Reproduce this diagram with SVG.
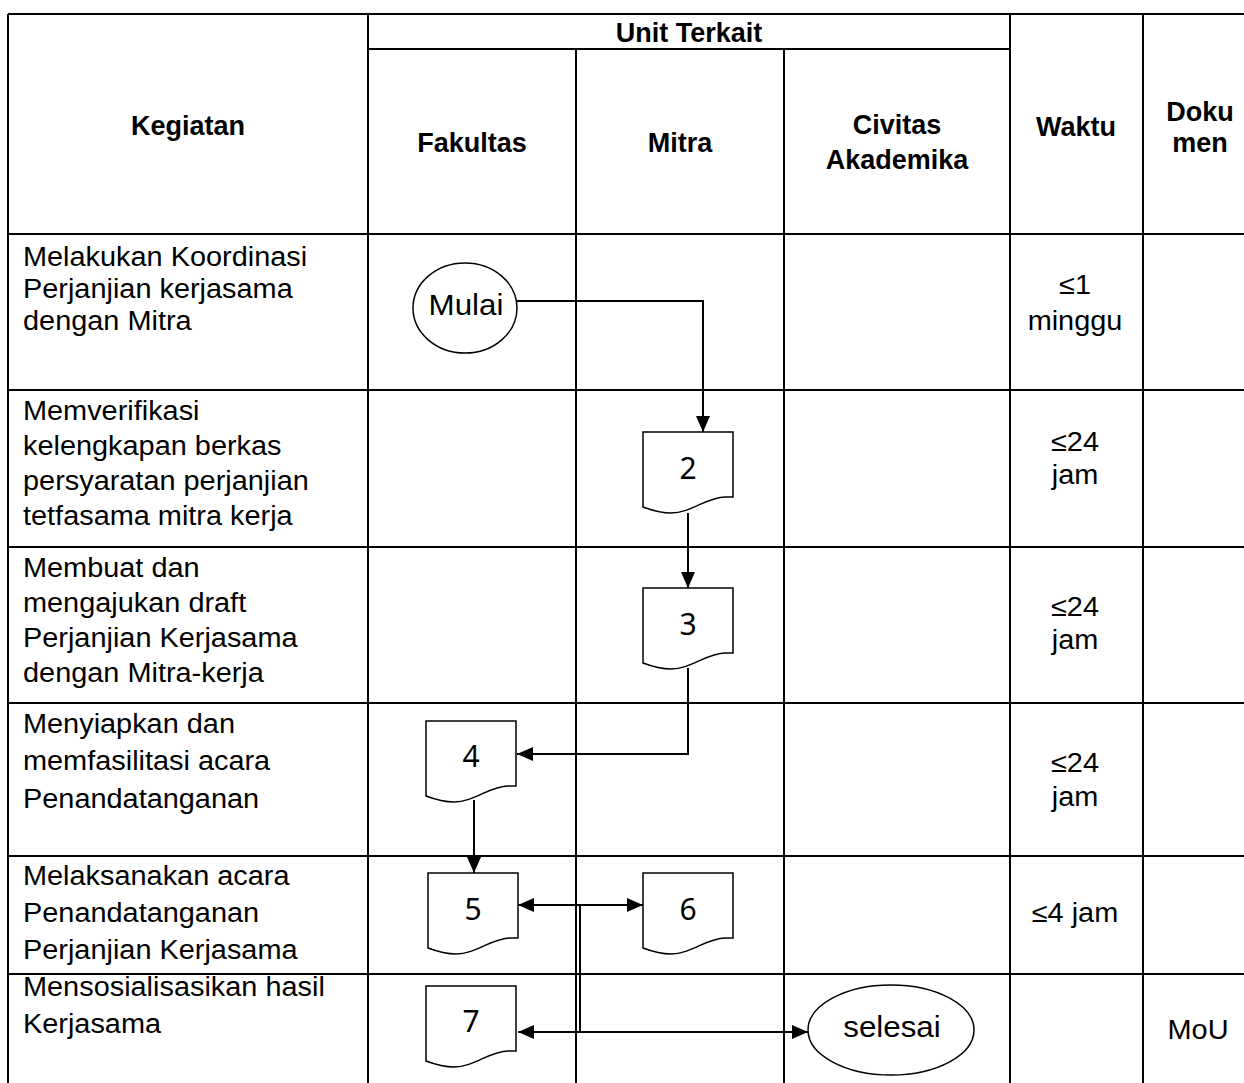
<svg xmlns="http://www.w3.org/2000/svg" width="1244" height="1083" viewBox="0 0 1244 1083">
<style>
.grid{stroke:#000;stroke-width:2;fill:none}
.h{font-family:"Liberation Sans",Arial,sans-serif;font-weight:bold;font-size:27px;fill:#000;text-anchor:middle}
.b{font-family:"Liberation Sans",Arial,sans-serif;font-size:27px;fill:#000}
.c{text-anchor:middle}
.shape{fill:#fff;stroke:#000;stroke-width:1.5}
.num{font-family:"Noto Sans","Open Sans",sans-serif;font-size:30px;fill:#000;text-anchor:middle}
.conn{stroke:#000;stroke-width:2;fill:none}
</style>
<defs>
<marker id="ah" viewBox="0 0 16 14" refX="16" refY="7" markerWidth="16" markerHeight="14" markerUnits="userSpaceOnUse" orient="auto-start-reverse">
<path d="M0,0 L16,7 L0,14 Z" fill="#000"/>
</marker>
<path id="doc" d="M0,0 H90 V65 H82 C64,65 48,81 28,81 C16,81 8,78 0,75 Z"/>
</defs>
<rect width="1244" height="1083" fill="#fff"/>
<g id="table" class="grid">
<path d="M8,14 H1244 M368,49 H1010 M8,234 H1244 M8,390 H1244 M8,547 H1244 M8,703 H1244 M8,856 H1244 M8,974 H1244"/>
<path d="M8,14 V1083 M368,14 V1083 M1010,14 V1083 M1143,14 V1083 M576,49 V1083 M784,49 V1083"/>
</g>
<g id="header">
<text class="h" x="689" y="42">Unit Terkait</text>
<text class="h" x="188" y="135">Kegiatan</text>
<text class="h" x="472" y="152">Fakultas</text>
<text class="h" x="680" y="152">Mitra</text>
<text class="h" x="897" y="134">Civitas</text>
<text class="h" x="897" y="169">Akademika</text>
<text class="h" x="1076" y="136">Waktu</text>
<text class="h" x="1200" y="121">Doku</text>
<text class="h" x="1200" y="152">men</text>
</g>
<g id="kegiatan" class="b" transform="translate(23,0) scale(1.07,1)">
<text x="0" y="266">Melakukan Koordinasi</text>
<text x="0" y="298">Perjanjian kerjasama</text>
<text x="0" y="330">dengan Mitra</text>
<text x="0" y="420">Memverifikasi</text>
<text x="0" y="455">kelengkapan berkas</text>
<text x="0" y="490">persyaratan perjanjian</text>
<text x="0" y="525">tetfasama mitra kerja</text>
<text x="0" y="577">Membuat dan</text>
<text x="0" y="612">mengajukan draft</text>
<text x="0" y="647">Perjanjian Kerjasama</text>
<text x="0" y="682">dengan Mitra-kerja</text>
<text x="0" y="733">Menyiapkan dan</text>
<text x="0" y="770">memfasilitasi acara</text>
<text x="0" y="808">Penandatanganan</text>
<text x="0" y="885">Melaksanakan acara</text>
<text x="0" y="922">Penandatanganan</text>
<text x="0" y="959">Perjanjian Kerjasama</text>
<text x="0" y="996">Mensosialisasikan hasil</text>
<text x="0" y="1033">Kerjasama</text>
</g>
<g id="waktu" class="b c" transform="translate(1075,0) scale(1.07,1)">
<text x="0" y="294">≤1</text>
<text x="0" y="330">minggu</text>
<text x="0" y="451">≤24</text>
<text x="0" y="484">jam</text>
<text x="0" y="616">≤24</text>
<text x="0" y="649">jam</text>
<text x="0" y="772">≤24</text>
<text x="0" y="806">jam</text>
<text x="0" y="922">≤4 jam</text>
</g>
<g id="dokumen" class="b c" transform="translate(1198,0) scale(1.07,1)">
<text x="0" y="1039">MoU</text>
</g>
<g id="connectors">
<path class="conn" d="M517,301 H703 V432" marker-end="url(#ah)"/>
<path class="conn" d="M688,513 V588" marker-end="url(#ah)"/>
<path class="conn" d="M688,668 V754 H517" marker-end="url(#ah)"/>
<path class="conn" d="M474,800 V873" marker-end="url(#ah)"/>
<path class="conn" d="M518,905 H643" marker-start="url(#ah)" marker-end="url(#ah)"/>
<path class="conn" d="M580,905 V1032"/>
<path class="conn" d="M518,1032 H808" marker-start="url(#ah)" marker-end="url(#ah)"/>
</g>
<g id="mulai">
<ellipse class="shape" cx="465" cy="308" rx="52" ry="45"/>
<text class="b c" transform="translate(466,315) scale(1.08,1)" style="font-size:29px">Mulai</text>
</g>
<g id="doc2"><use href="#doc" class="shape" x="643" y="432"/><text class="num" x="688" y="479">2</text></g>
<g id="doc3"><use href="#doc" class="shape" x="643" y="588"/><text class="num" x="688" y="635">3</text></g>
<g id="doc4"><use href="#doc" class="shape" x="426" y="721"/><text class="num" x="471" y="767">4</text></g>
<g id="doc5"><use href="#doc" class="shape" x="428" y="873"/><text class="num" x="473" y="920">5</text></g>
<g id="doc6"><use href="#doc" class="shape" x="643" y="873"/><text class="num" x="688" y="920">6</text></g>
<g id="doc7"><use href="#doc" class="shape" x="426" y="986"/><text class="num" x="471" y="1032">7</text></g>
<g id="selesai">
<ellipse class="shape" cx="891" cy="1030" rx="83" ry="45"/>
<text class="b c" transform="translate(892,1037) scale(1.08,1)" style="font-size:29px">selesai</text>
</g>
</svg>
